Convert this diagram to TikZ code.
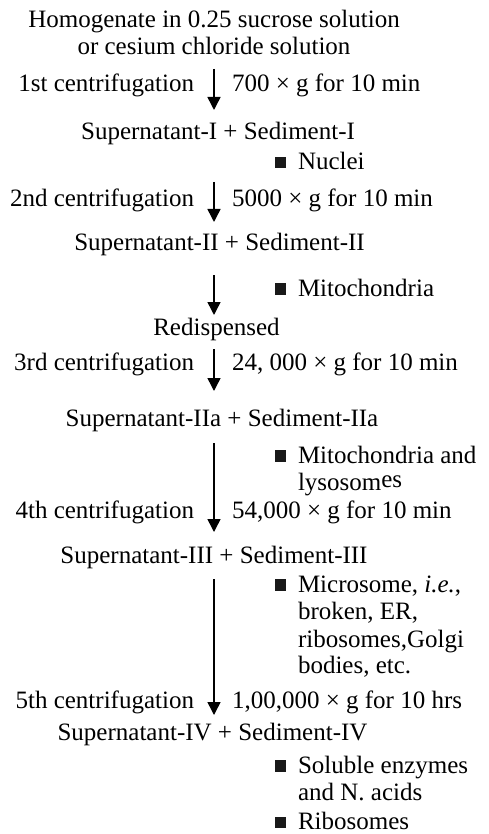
\documentclass[tikz,border=0pt]{standalone}
\usepackage{fontspec}
\setmainfont{Liberation Serif}
\usetikzlibrary{arrows.meta}
\begin{document}
\begin{tikzpicture}[x=1pt,y=-1pt,
  every node/.style={inner sep=0pt,outer sep=0pt,font=\fontsize{25}{27.5}\selectfont},
  mid/.style={anchor=base},
  lft/.style={anchor=base east},
  rgt/.style={anchor=base west},
  flow/.style={line width=1.5pt,-{Triangle[width=13pt,length=13pt]}},
  sq/.style={fill=black!90}
]
\useasboundingbox (0,0) rectangle (489,834);

% main column
\node[mid] (t1)  at (214,28)  {Homogenate in 0.25 sucrose solution};
\node[mid] (t2)  at (214,55)  {or cesium chloride solution};
\node[mid] (s1)  at (218,140) {Supernatant-I + Sediment-I};
\node[mid] (s2)  at (219.5,251) {Supernatant-II + Sediment-II};
\node[mid] (rd)  at (216.5,335) {Redispensed};
\node[mid] (s2a) at (222,426) {Supernatant-IIa + Sediment-IIa};
\node[mid] (s3)  at (214,563) {Supernatant-III + Sediment-III};
\node[mid] (s4)  at (212.5,740) {Supernatant-IV + Sediment-IV};

% step names
\node[lft] (c1) at (194,92)  {1st centrifugation};
\node[lft] (c2) at (194,207) {2nd centrifugation};
\node[lft] (c3) at (194,370) {3rd centrifugation};
\node[lft] (c4) at (194,518) {4th centrifugation};
\node[lft] (c5) at (194,708) {5th centrifugation};

% conditions
\node[rgt] (r1) at (232,92)  {700 × g for 10 min};
\node[rgt] (r2) at (232,207) {5000 × g for 10 min};
\node[rgt] (r3) at (232,370) {24, 000 × g for 10 min};
\node[rgt] (r4) at (232,518) {54,000 × g for 10 min};
\node[rgt] (r5) at (232,708) {1,00,000 × g for 10 hrs};

% sediment contents
\node[rgt] (b1)  at (298,170) {Nuclei};
\node[rgt] (b2)  at (298,296) {Mitochondria};
\node[rgt] (b3)  at (298,463) {Mitochondria and};
\node[rgt] (b3b) at (298,490) {lysosom\raisebox{3pt}{es}};
\node[rgt] (b4)  at (298,592) {Microsome, \textit{i.e.},};
\node[rgt] (b4b) at (298,619) {broken, ER,};
\node[rgt] (b4c) at (298,647) {ribosomes,Golgi};
\node[rgt] (b4d) at (298,673) {bodies, etc.};
\node[rgt] (b5)  at (298,773) {Soluble enzymes};
\node[rgt] (b5b) at (298,800) {and N. acids};
\node[rgt] (b6)  at (298,829.5) {Ribosomes};

% bullet squares
\foreach \yb in {170,296,463,592,773,829.5}
  \fill[sq] (274.5,\yb-1.5) rectangle ++(11.5,-11.5);

% arrow ends on the vertical axis
\coordinate (a1s) at (214,69);  \coordinate (a1e) at (214,110);
\coordinate (a2s) at (214,182); \coordinate (a2e) at (214,222);
\coordinate (a3s) at (214,275); \coordinate (a3e) at (214,315);
\coordinate (a4s) at (214,349); \coordinate (a4e) at (214,391);
\coordinate (a5s) at (214,443); \coordinate (a5e) at (214,532);
\coordinate (a6s) at (214,579); \coordinate (a6e) at (214,715);

\draw[flow] (a1s) -- (a1e);
\draw[flow] (a2s) -- (a2e);
\draw[flow] (a3s) -- (a3e);
\draw[flow] (a4s) -- (a4e);
\draw[flow] (a5s) -- (a5e);
\draw[flow] (a6s) -- (a6e);
\end{tikzpicture}
\end{document}
